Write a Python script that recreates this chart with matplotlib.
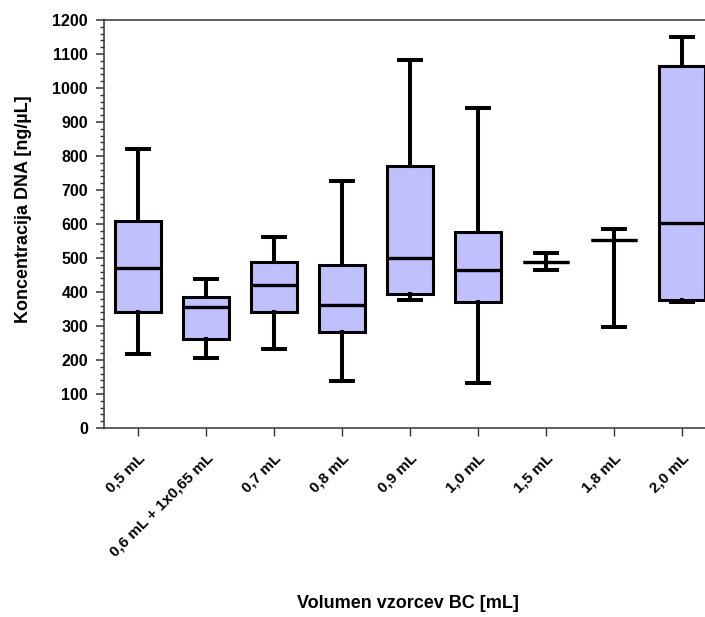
import matplotlib
matplotlib.use("Agg")
import matplotlib.pyplot as plt
from matplotlib.ticker import MultipleLocator

plt.rcParams['font.family'] = ['Liberation Sans', 'DejaVu Sans']
plt.rcParams['font.weight'] = 'bold'

categories = ["0,5 mL", "0,6 mL + 1x0,65 mL", "0,7 mL", "0,8 mL", "0,9 mL",
              "1,0 mL", "1,5 mL", "1,8 mL", "2,0 mL"]
whisker_low = [219, 206, 232, 139, 376, 132, 465, 297, 372]
q1 = [342, 262, 340, 282, 395, 370, 488, 553, 376]
median = [472, 357, 422, 363, 500, 465, 488, 553, 604]
q3 = [610, 386, 487, 480, 771, 576, 488, 553, 1066]
whisker_high = [821, 439, 562, 726, 1082, 942, 514, 584, 1151]

fig = plt.figure(figsize=(7.05, 6.17), dpi=100)
ax = fig.add_axes([104/705, 1 - 428/617, 612/705, 408/617])

stats = []
for i, name in enumerate(categories):
    stats.append(dict(label=name, whislo=whisker_low[i], q1=q1[i], med=median[i],
                      q3=q3[i], whishi=whisker_high[i], fliers=[]))

ax.bxp(stats, positions=range(len(categories)), widths=0.68, capwidths=0.33,
       showfliers=False, patch_artist=True,
       boxprops=dict(facecolor='#C0C0FF', edgecolor='black', linewidth=2.2),
       medianprops=dict(color='black', linewidth=2.4),
       whiskerprops=dict(color='black', linewidth=2.9),
       capprops=dict(color='black', linewidth=2.9))

ax.set_xlim(-0.5, len(categories) - 0.5)
ax.set_ylim(0, 1200)
ax.yaxis.set_major_locator(MultipleLocator(100))
ax.yaxis.set_minor_locator(MultipleLocator(20))

for s in ax.spines.values():
    s.set_color('#333333')
    s.set_linewidth(1.1)

ax.tick_params(axis='y', which='major', direction='out', length=5.5, width=1.1,
               color='#333333', labelsize=11.5, pad=6)
ax.tick_params(axis='y', which='minor', direction='out', length=3, width=1.0,
               color='#333333')
ax.tick_params(axis='x', which='major', direction='out', length=5.5, width=1.0,
               color='#333333', labelsize=11, pad=11)

ax.set_xticks(range(len(categories)))
ax.set_xticklabels(categories, rotation=45, ha='right', va='top',
                   rotation_mode='anchor', fontweight='bold')
for lab in ax.get_yticklabels():
    lab.set_fontweight('bold')

ax.set_ylabel("Koncentracija DNA [ng/µL]", fontsize=13, fontweight='bold')
ax.yaxis.set_label_coords(-0.118, 0.537)
ax.set_xlabel("Volumen vzorcev BC [mL]", fontsize=13, fontweight='bold')
ax.xaxis.set_label_coords(0.497, -0.41)

fig.savefig("out.png", dpi=100)
